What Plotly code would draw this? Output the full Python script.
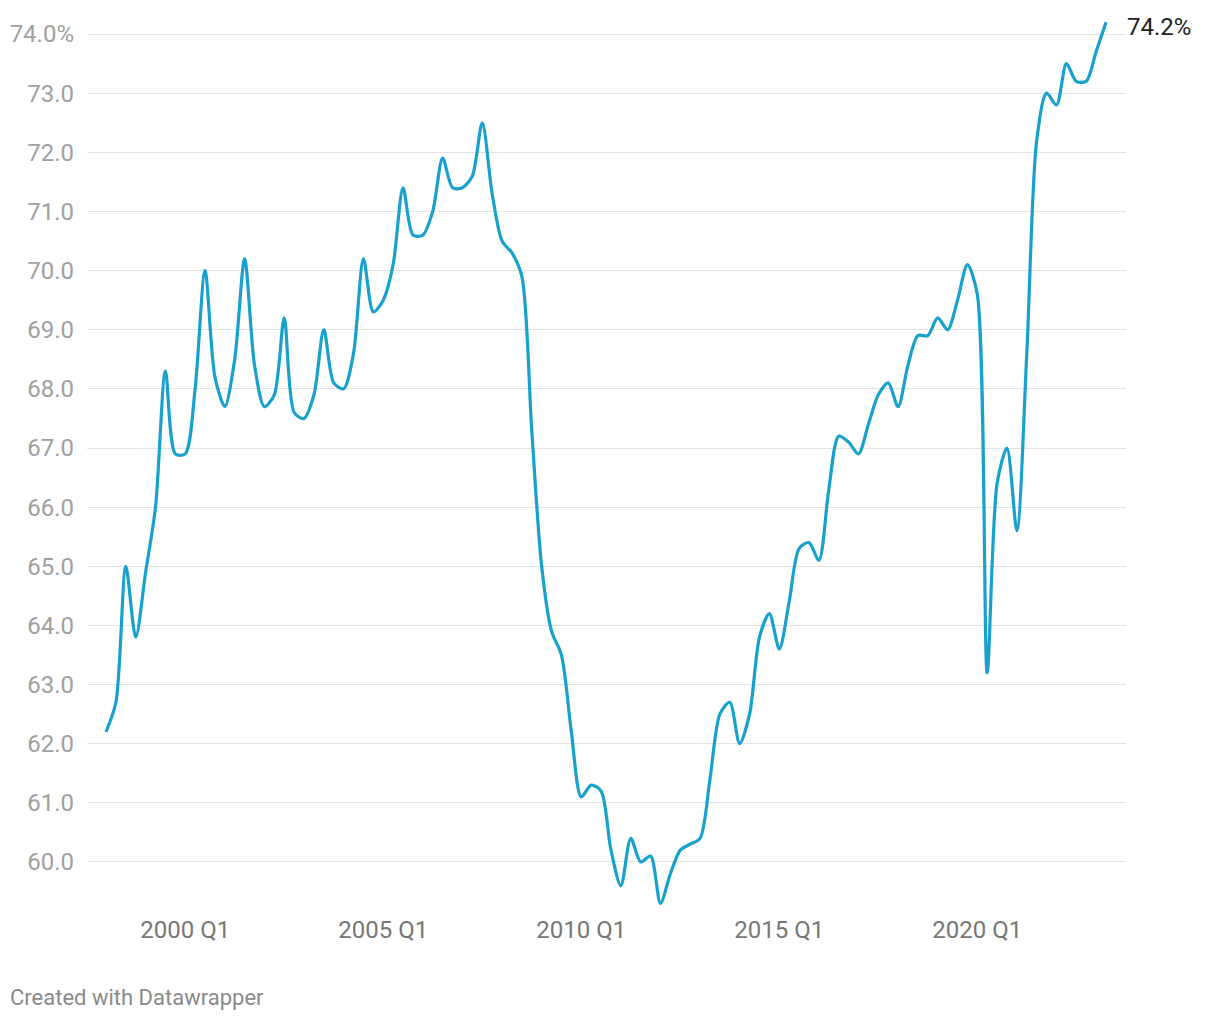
import plotly.graph_objects as go

# Quarterly values, 1998 Q1 .. 2023 Q2
quarters = [f"{y} Q{q}" for y in range(1998, 2024) for q in range(1, 5)][:102]
values = [
    62.2, 62.7, 65.0, 63.8, 64.9, 66.0, 68.3, 66.9,   # 1998-1999
    66.9, 68.0, 70.0, 68.2, 67.7, 68.5, 70.2, 68.4,   # 2000-2001
    67.7, 67.9, 69.2, 67.6, 67.5, 67.9, 69.0, 68.1,   # 2002-2003
    68.0, 68.6, 70.2, 69.3, 69.5, 70.1, 71.4, 70.6,   # 2004-2005
    70.6, 71.0, 71.9, 71.4, 71.4, 71.6, 72.5, 71.3,   # 2006-2007
    70.5, 70.3, 69.9, 67.3, 65.0, 63.9, 63.5, 62.2,   # 2008-2009
    61.1, 61.3, 61.2, 60.2, 59.6, 60.4, 60.0, 60.1,   # 2010-2011
    59.3, 59.8, 60.2, 60.3, 60.4, 61.4, 62.5, 62.7,   # 2012-2013
    62.0, 62.5, 63.8, 64.2, 63.6, 64.4, 65.3, 65.4,   # 2014-2015
    65.1, 66.3, 67.2, 67.1, 66.9, 67.4, 67.9, 68.1,   # 2016-2017
    67.7, 68.4, 68.9, 68.9, 69.2, 69.0, 69.5, 70.1,   # 2018-2019
    69.6, 63.2, 66.4, 67.0, 65.6, 68.6, 72.2, 73.0,   # 2020-2021
    72.8, 73.5, 73.2, 73.2, 73.7, 74.2,               # 2022-2023 Q2
]
x_tick_labels = ["2000 Q1", "2005 Q1", "2010 Q1", "2015 Q1", "2020 Q1"]
y_tick_values = [60, 61, 62, 63, 64, 65, 66, 67, 68, 69, 70, 71, 72, 73, 74]

idx = list(range(len(values)))
x_tick_pos = [quarters.index(t) for t in x_tick_labels]
y_tick_text = [f"{v:.1f}%" if v == 74 else f"{v:.1f}" for v in y_tick_values]

LINE = "#18a1cd"
FONT = "Roboto"

fig = go.Figure()
fig.add_trace(go.Scatter(
    x=idx, y=values, mode="lines",
    line=dict(color=LINE, width=3.2, shape="spline", smoothing=0.8),
    hoverinfo="skip", showlegend=False,
))

fig.add_annotation(
    x=idx[-1], y=values[-1], text=f"{values[-1]:.1f}%",
    showarrow=False, xanchor="left", yanchor="middle", xshift=19, yshift=-5,
    font=dict(family=FONT, size=24, color="#222222"),
)
fig.add_annotation(
    xref="paper", yref="paper", x=(0 - 79) / 1039, y=0, yshift=-87,
    text="Created with Datawrapper", showarrow=False,
    xanchor="left", yanchor="middle",
    font=dict(family=FONT, size=22, color="#8a8a8a"),
)

fig.update_layout(
    width=1204, height=1004, autosize=False,
    margin=dict(l=79, r=86, t=12, b=102, autoexpand=False),
    paper_bgcolor="white", plot_bgcolor="white",
    font=dict(family=FONT),
    xaxis=dict(
        range=[-1.92, 103.02], tickmode="array", tickvals=x_tick_pos,
        ticktext=x_tick_labels, showgrid=False, zeroline=False, showline=False,
        ticks="", tickfont=dict(family=FONT, size=24, color="#777777"),
        ticklabelstandoff=3, automargin=False,
    ),
    yaxis=dict(
        range=[59.188, 74.237], tickmode="array", tickvals=y_tick_values,
        ticktext=y_tick_text, showgrid=True, gridcolor="#e3e3e3", gridwidth=1,
        zeroline=False, showline=False, ticks="",
        tickfont=dict(family=FONT, size=24, color="#a0a0a0"),
        ticklabelstandoff=12, automargin=False,
    ),
)

fig.write_html("out.html")
